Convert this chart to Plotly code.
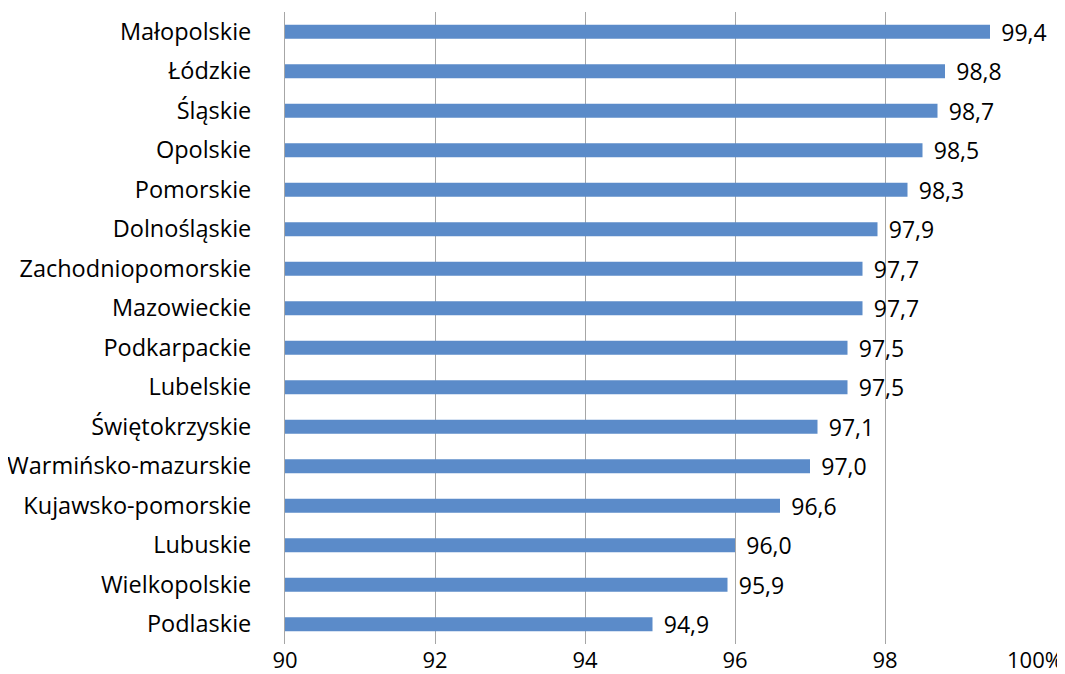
import plotly.graph_objects as go

regions = ["Małopolskie", "Łódzkie", "Śląskie", "Opolskie", "Pomorskie", "Dolnośląskie",
           "Zachodniopomorskie", "Mazowieckie", "Podkarpackie", "Lubelskie", "Świętokrzyskie",
           "Warmińsko-mazurskie", "Kujawsko-pomorskie", "Lubuskie", "Wielkopolskie", "Podlaskie"]
values = [99.4, 98.8, 98.7, 98.5, 98.3, 97.9, 97.7, 97.7, 97.5, 97.5, 97.1, 97.0, 96.6, 96.0, 95.9, 94.9]
tick_vals = [90, 92, 94, 96, 98, 100]
tick_text = ["90", "92", "94", "96", "98", "100%"]

fig = go.Figure(go.Bar(
    x=values, y=regions, orientation="h",
    marker=dict(color="#5B8BC9", line=dict(width=0)),
    texttemplate="\u00a0\u200a%{x:.1f}", textposition="outside",
    constraintext="none",
    textfont=dict(size=23, color="#000000"),
    cliponaxis=False,
))

# the page body adds an 8px offset, so the figure is sized to fit within the window
fig.update_layout(
    width=1057, height=666,
    margin=dict(l=277, r=30, t=4, b=30, autoexpand=False),
    plot_bgcolor="white", paper_bgcolor="white",
    separators=", ",
    bargap=0.645,
    showlegend=False,
    font=dict(family="Open Sans, Liberation Sans, sans-serif", size=23, color="#000000"),
    xaxis=dict(range=[90, 100], tickvals=tick_vals, ticktext=tick_text,
               showgrid=True, gridcolor="#A6A6A6", gridwidth=1,
               zeroline=False, showline=False, ticks="", automargin=False,
               tickfont=dict(size=22), ticklabelstandoff=1),
    yaxis=dict(autorange="reversed", showline=True, linecolor="#A6A6A6", linewidth=1,
               ticks="", automargin=False, tickfont=dict(size=23.5), ticklabelstandoff=28),
)

fig.write_html("out.html")
